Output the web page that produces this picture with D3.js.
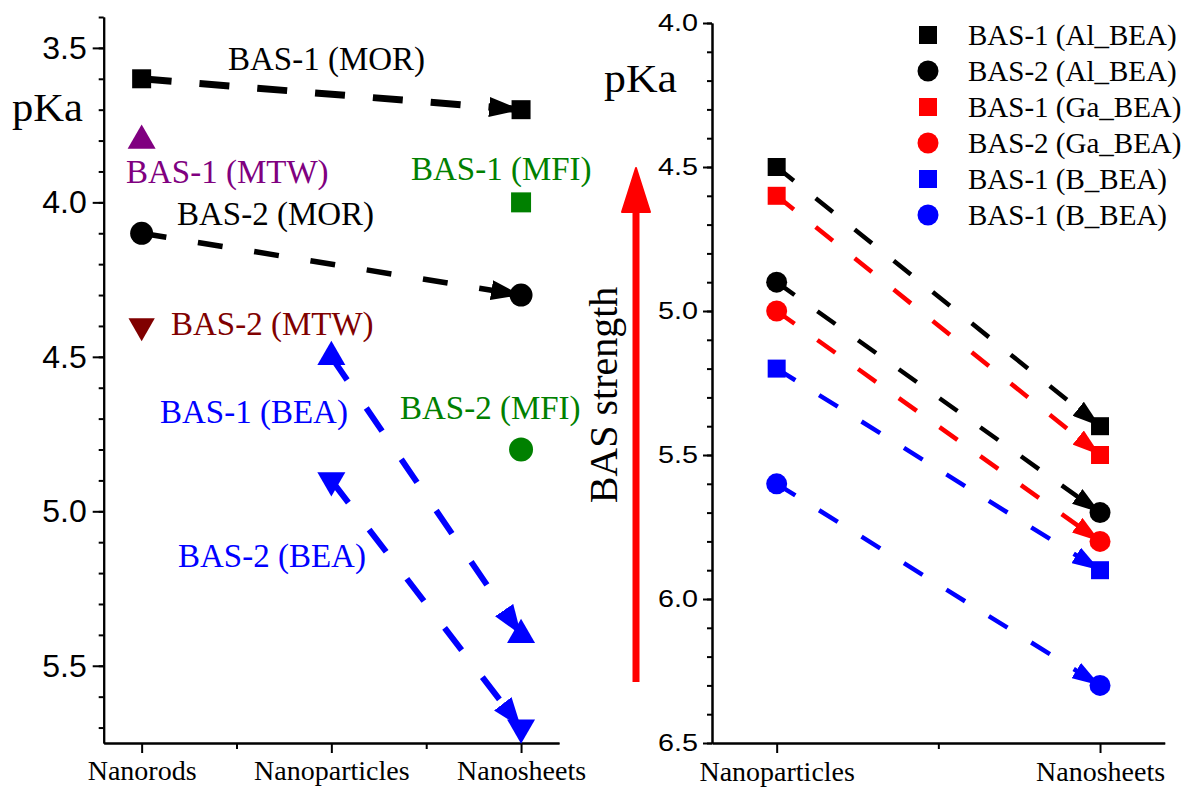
<!DOCTYPE html>
<html>
<head>
<meta charset="utf-8">
<script src="https://cdn.jsdelivr.net/npm/d3@7"></script>
<style>
  body { margin: 0; background: #fff; }
  svg { display: block; }
</style>
</head>
<body>
<div id="chart"></div>
<script>
// ---- data ----
const leftCats = ["Nanorods", "Nanoparticles", "Nanosheets"];
const rightCats = ["Nanoparticles", "Nanosheets"];
const leftTicks = [3.5, 4.0, 4.5, 5.0, 5.5];
const rightTicks = [4.0, 4.5, 5.0, 5.5, 6.0, 6.5];

// left panel pKa, one slot per category (null = no point)
const morBas1 = [3.6, null, 3.7];
const morBas2 = [4.1, null, 4.3];
const mtwBas1 = [3.8, null, null];
const mtwBas2 = [4.4, null, null];
const mfiBas1 = [null, null, 4.0];
const mfiBas2 = [null, null, 4.8];
const beaBas1 = [null, 4.5, 5.4];
const beaBas2 = [null, 4.9, 5.7];

// right panel pKa (Nanoparticles, Nanosheets)
const alBas1 = [4.5, 5.4];
const alBas2 = [4.9, 5.7];
const gaBas1 = [4.6, 5.5];
const gaBas2 = [5.0, 5.8];
const bBas1 = [5.2, 5.9];
const bBas2 = [5.6, 6.3];
const legendNames = ["BAS-1 (Al_BEA)", "BAS-2 (Al_BEA)", "BAS-1 (Ga_BEA)", "BAS-2 (Ga_BEA)", "BAS-1 (B_BEA)", "BAS-1 (B_BEA)"];

// ---- styles ----
const serif = "'Liberation Serif', 'Times New Roman', serif";
const sans = "'Liberation Sans', Arial, sans-serif";

const leftSeries = [
  { values: morBas1, color: "#000000", sym: "square", size: 361, lw: 7, dash: "30,28", arrow: [32, 10] },
  { values: morBas2, color: "#000000", sym: "circle", size: 415, lw: 5.5, dash: "25,32", arrow: [30, 10] },
  { values: mtwBas1, color: "#800080", sym: "up", size: 340 },
  { values: mtwBas2, color: "#800000", sym: "down", size: 300 },
  { values: mfiBas1, color: "#008000", sym: "square", size: 400 },
  { values: mfiBas2, color: "#008000", sym: "circle", size: 452 },
  { values: beaBas1, color: "#0000ff", sym: "up", size: 340, lw: 6, dash: "28,34", arrow: [30, 11] },
  { values: beaBas2, color: "#0000ff", sym: "down", size: 340, lw: 6, dash: "28,34", arrow: [30, 11] }
];

const rightSeries = [
  { values: alBas1, color: "#000000", sym: "square" },
  { values: alBas2, color: "#000000", sym: "circle" },
  { values: gaBas1, color: "#ff0000", sym: "square" },
  { values: gaBas2, color: "#ff0000", sym: "circle" },
  { values: bBas1, color: "#0000ff", sym: "square" },
  { values: bBas2, color: "#0000ff", sym: "circle" }
].map(s => Object.assign(s, { size: s.sym === "square" ? 324 : 346, lw: 4.5, dash: "22,28", arrow: [28, 9] }));

const annotations = [
  { text: "BAS-1 (MOR)", x: 228, y: 70, color: "#000000" },
  { text: "BAS-1 (MTW)", x: 126, y: 183, color: "#800080" },
  { text: "BAS-1 (MFI)", x: 411, y: 180, color: "#008000" },
  { text: "BAS-2 (MOR)", x: 177, y: 225, color: "#000000" },
  { text: "BAS-2 (MTW)", x: 171, y: 335, color: "#800000" },
  { text: "BAS-1 (BEA)", x: 160, y: 423, color: "#0000ff" },
  { text: "BAS-2 (MFI)", x: 400, y: 419, color: "#008000" },
  { text: "BAS-2 (BEA)", x: 178, y: 567, color: "#0000ff" }
];

const width = 1192, height = 787;
const svg = d3.select("#chart").append("svg")
  .attr("width", width)
  .attr("height", height)
  .attr("viewBox", `0 0 ${width} ${height}`);
const defs = svg.append("defs");

function symbolPath(type, size) {
  const t = type === "square" ? d3.symbolSquare
    : type === "circle" ? d3.symbolCircle : d3.symbolTriangle;
  return d3.symbol().type(t).size(size)();
}

let markerId = 0;
function arrowMarker(color, len, hw) {
  const id = "arr" + (markerId++);
  defs.append("marker")
    .attr("id", id)
    .attr("markerUnits", "userSpaceOnUse")
    .attr("viewBox", `0 ${-hw} ${len} ${2 * hw}`)
    .attr("refX", len)
    .attr("refY", 0)
    .attr("markerWidth", len)
    .attr("markerHeight", 2 * hw)
    .attr("orient", "auto")
    .append("path")
    .attr("d", `M0,${-hw}L${len},0L0,${hw}Z`)
    .attr("fill", color);
  return id;
}

function drawPanel(g, x, y, series) {
  const line = d3.line().x(d => x(d.i)).y(d => y(d.v));
  series.forEach(s => {
    const pts = s.values.map((v, i) => ({ i, v })).filter(d => d.v != null);
    s.pts = pts;
    if (pts.length > 1) {
      const id = arrowMarker(s.color, s.arrow[0], s.arrow[1]);
      g.append("path")
        .datum(pts)
        .attr("d", line)
        .attr("fill", "none")
        .attr("stroke", s.color)
        .attr("stroke-width", s.lw)
        .attr("stroke-dasharray", s.dash)
        .attr("marker-end", `url(#${id})`);
    }
  });
  series.forEach(s => {
    g.selectAll(null)
      .data(s.pts)
      .enter().append("path")
      .attr("d", symbolPath(s.sym, s.size))
      .attr("transform", d => `translate(${x(d.i)},${y(d.v)})` + (s.sym === "down" ? " rotate(180)" : ""))
      .attr("fill", s.color);
  });
}

function styleAxis(ax) {
  ax.select(".domain").attr("stroke-width", 2);
  ax.selectAll(".tick line").attr("stroke-width", 2);
}

// ---- left panel ----
const xL = d3.scaleLinear().domain([-0.2, 2.2]).range([103.7, 559]);
const yL = d3.scaleLinear().domain([3.4, 5.75]).range([17, 743]);

const axL = svg.append("g").attr("transform", "translate(103.7,0)")
  .call(d3.axisLeft(yL).tickValues(leftTicks).tickFormat(d3.format(".1f")).tickSize(11).tickPadding(6).tickSizeOuter(0));
axL.selectAll("text").style("font-family", sans).style("font-size", "32px").attr("fill", "#000");
styleAxis(axL);
const axLm = svg.append("g").attr("transform", "translate(103.7,0)")
  .call(d3.axisLeft(yL).tickValues(d3.range(34, 58).map(d => d / 10)).tickFormat("").tickSize(5).tickSizeOuter(0));
styleAxis(axLm);

const bxL = svg.append("g").attr("transform", "translate(0,743)")
  .call(d3.axisBottom(xL).tickValues([0, 1, 2]).tickFormat(i => leftCats[i]).tickSize(10).tickPadding(7).tickSizeOuter(0));
bxL.selectAll("text").style("font-family", serif).style("font-size", "28px").attr("fill", "#000");
styleAxis(bxL);
const bxLm = svg.append("g").attr("transform", "translate(0,743)")
  .call(d3.axisBottom(xL).tickValues([0.5, 1.5]).tickFormat("").tickSize(6).tickSizeOuter(0));
styleAxis(bxLm);

svg.append("text")
  .attr("x", 12).attr("y", 121)
  .attr("textLength", 71).attr("lengthAdjust", "spacingAndGlyphs")
  .style("font-family", serif).style("font-size", "40px")
  .text("pKa");

drawPanel(svg.append("g"), xL, yL, leftSeries);

svg.append("g").selectAll("text")
  .data(annotations)
  .enter().append("text")
  .attr("x", d => d.x)
  .attr("y", d => d.y)
  .attr("fill", d => d.color)
  .style("font-family", serif)
  .style("font-size", "33px")
  .text(d => d.text);

// ---- BAS strength arrow ----
svg.append("line")
  .attr("x1", 636).attr("x2", 636)
  .attr("y1", 682).attr("y2", 205)
  .attr("stroke", "#ff0000").attr("stroke-width", 7);
svg.append("path")
  .attr("d", "M636,168L650,212L622,212Z")
  .attr("fill", "#ff0000")
  .attr("stroke", "#ff0000").attr("stroke-width", 2).attr("stroke-linejoin", "round");
svg.append("text")
  .attr("transform", "translate(617,395) rotate(-90)")
  .attr("text-anchor", "middle")
  .style("font-family", serif).style("font-size", "40px")
  .text("BAS strength");

// ---- right panel ----
const xR = d3.scaleLinear().domain([-0.2, 1.2]).range([712, 1164.7]);
const yR = d3.scaleLinear().domain([4.0, 6.5]).range([23, 743]);

const axR = svg.append("g").attr("transform", "translate(712,0)")
  .call(d3.axisLeft(yR).tickValues(rightTicks).tickFormat(d3.format(".1f")).tickSize(9).tickPadding(5).tickSizeOuter(0));
axR.selectAll("text").style("font-family", sans).style("font-size", "24px").attr("fill", "#000")
  .attr("textLength", 40).attr("lengthAdjust", "spacingAndGlyphs");
styleAxis(axR);
const axRm = svg.append("g").attr("transform", "translate(712,0)")
  .call(d3.axisLeft(yR).tickValues(d3.range(40, 66).map(d => d / 10)).tickFormat("").tickSize(5).tickSizeOuter(0));
styleAxis(axRm);

const bxR = svg.append("g").attr("transform", "translate(0,743)")
  .call(d3.axisBottom(xR).tickValues([0, 1]).tickFormat(i => rightCats[i]).tickSize(10).tickPadding(8).tickSizeOuter(0));
bxR.selectAll("text").style("font-family", serif).style("font-size", "28px").attr("fill", "#000");
styleAxis(bxR);
const bxRm = svg.append("g").attr("transform", "translate(0,743)")
  .call(d3.axisBottom(xR).tickValues([0.5]).tickFormat("").tickSize(6).tickSizeOuter(0));
styleAxis(bxRm);

svg.append("text")
  .attr("x", 604).attr("y", 92)
  .attr("textLength", 73).attr("lengthAdjust", "spacingAndGlyphs")
  .style("font-family", serif).style("font-size", "40px")
  .text("pKa");

drawPanel(svg.append("g"), xR, yR, rightSeries);

// legend
const legend = svg.append("g").attr("transform", "translate(928,35)");
const rows = legend.selectAll("g")
  .data(rightSeries)
  .enter().append("g")
  .attr("transform", (d, i) => `translate(0,${i * 36})`);
rows.append("path")
  .attr("d", d => symbolPath(d.sym, d.size))
  .attr("fill", d => d.color);
rows.append("text")
  .attr("x", 40)
  .attr("y", 10)
  .style("font-family", serif)
  .style("font-size", "29px")
  .text((d, i) => legendNames[i]);
</script>
</body>
</html>
